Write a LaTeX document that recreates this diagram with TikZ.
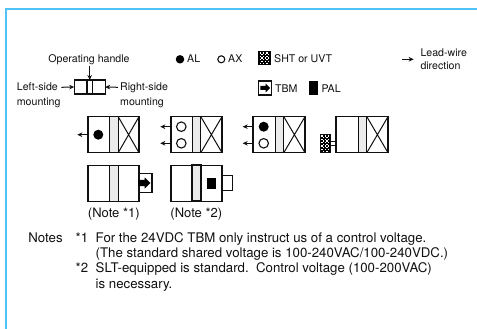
\documentclass[tikz,border=0pt]{standalone}
\usepackage{fontspec}
\setmainfont{TeX Gyre Heros}
\usetikzlibrary{arrows.meta}
\definecolor{rule}{HTML}{4FC3F7}
\definecolor{bandgray}{HTML}{EBEBEB}
\definecolor{ink}{HTML}{101010}
\tikzset{
  x=1pt,y=-1pt,
  txt/.style={anchor=base west,inner sep=0pt,font=\fontsize{10.6}{12}\selectfont,text=ink},
  big/.style={anchor=base west,inner sep=0pt,font=\fontsize{13.25}{15}\selectfont,text=ink},
  ctxt/.style={anchor=base,inner sep=0pt,font=\fontsize{10.6}{12}\selectfont,text=ink},
  cbig/.style={anchor=base,inner sep=0pt,font=\fontsize{13}{15}\selectfont,text=ink},
  shell/.style={draw=ink,line width=1.1pt,fill=white,inner sep=0pt,outer sep=0pt,minimum height=36pt},
  band/.style={draw=ink,line width=1pt,fill=bandgray,inner sep=0pt,outer sep=0pt,minimum height=36pt,minimum width=8.5pt},
  tab/.style={draw=ink,line width=1.1pt,fill=white,inner sep=0pt,outer sep=0pt},
  wire/.style={-{Stealth[length=5pt,width=4.6pt]},line width=1pt,draw=ink},
  bigdot/.style={circle,fill=black,inner sep=0pt,minimum size=10pt},
  ring/.style={circle,draw=ink,line width=1.1pt,fill=white,inner sep=0pt,minimum size=9.5pt},
}
\newcommand\relaybody[5]{%
  \node[shell,minimum width=\the\numexpr#3-#2\relax pt] (#1) at ({(#2+#3)/2},#5) {};
  \node[band] (#1b) at ({#4+4.25},#5) {};
}
\newcommand\relaycross[1]{%
  \coordinate (#1tl) at (#1b.north east); \coordinate (#1bl) at (#1b.south east);
  \draw[line width=1pt,draw=ink] (#1tl) -- (#1.south east) (#1bl) -- (#1.north east);
}
\newcommand\checker[4]{%
  \foreach \i in {0,...,#3}{\foreach \j in {0,...,#4}{%
    \pgfmathparse{int(mod(\i+\j,2))}%
    \ifnum\pgfmathresult=0 \fill[white] ({#1+\i*1.7},{#2+\j*1.7}) rectangle ++(1.3,1.3);\fi
  }}%
}
\begin{document}
\begin{tikzpicture}
\useasboundingbox (0,0) rectangle (477,329);
\fill[rule] (5,8) rectangle (477,10);
\fill[rule] (5,8) rectangle (7,329);

% key diagram
\node[ctxt] (oph) at (89,63) {Operating handle};
\node[draw=ink,line width=1.1pt,minimum width=31pt,minimum height=14pt,inner sep=0pt,outer sep=0pt] (key) at (89.7,87) {};
\draw[line width=1.1pt,draw=ink] (87,80) -- (87,94) (92.7,80) -- (92.7,94);
\draw[wire] (oph.south -| key.north) -- (key.north);
\node[txt] (ls1) at (16.7,91) {Left-side};
\node[txt] (ls2) at (16.7,105.5) {mounting};
\node[txt] (rs1) at (120,91) {Right-side};
\node[txt] (rs2) at (120,105.5) {mounting};
\coordinate (la) at (61.3,87.3); \coordinate (ra) at (118,87.3);
\draw[wire] (la) -- (key.west);
\draw[wire] (ra) -- (key.east);

% legend
\node[circle,fill=black,inner sep=0pt,minimum size=8.5pt] (kal) at (180,59.3) {};
\node[txt] (tal) at (187,63) {AL};
\node[circle,draw=ink,line width=1.1pt,inner sep=0pt,minimum size=7pt] (kax) at (221.3,59.3) {};
\node[txt] (tax) at (228,63) {AX};
\fill[black] (258.3,51) rectangle (270.7,65.3);
\checker{259.6}{52.4}{5}{6}
\node[txt] (tsht) at (274,63) {SHT or UVT};
\coordinate (ld1) at (402.3,59.3); \coordinate (ld2) at (413.7,59.3);
\draw[wire] (ld1) -- (ld2);
\node[txt] (lw1) at (420.3,57) {Lead-wire};
\node[txt] (lw2) at (420.3,70) {direction};
\node[draw=ink,line width=1.1pt,fill=white,minimum width=13pt,minimum height=14pt,inner sep=0pt] (ktbm) at (265,88) {};
\fill[black] (260.3,86) -- (265.5,86) -- (265.5,83.5) -- (270,88) -- (265.5,92.5) -- (265.5,90) -- (260.3,90) -- cycle;
\node[txt] (ttbm) at (275,92.5) {TBM};
\fill[black] (309.3,81) rectangle (317.7,95);
\node[txt] (tpal) at (321.3,92.5) {PAL};

% row 1
\relaybody{r1}{88}{139}{109.7}{134.7}\relaycross{r1}
\node[bigdot] (r1d) at (98.3,134.7) {};
\coordinate (r1e) at (77.3,134.7);
\draw[wire] (r1.west) -- (r1e);

\relaybody{r2}{171}{222}{192.3}{134.7}\relaycross{r2}
\node[ring] (r2a) at (181.3,126.7) {};
\node[ring] (r2c) at (181.3,143.3) {};
\coordinate (r2e1) at (160.3,126.7); \coordinate (r2e2) at (160.3,143.3);
\draw[wire] (r2.west |- r2a) -- (r2e1);
\draw[wire] (r2.west |- r2c) -- (r2e2);

\relaybody{r3}{253}{305}{275.3}{134.7}\relaycross{r3}
\node[bigdot] (r3a) at (263.7,126.7) {};
\node[ring] (r3c) at (263.7,143.3) {};
\coordinate (r3e1) at (242.7,126.7); \coordinate (r3e2) at (242.7,143.3);
\draw[wire] (r3.west |- r3a) -- (r3e1);
\draw[wire] (r3.west |- r3c) -- (r3e2);

\relaybody{r4}{336}{388}{358.3}{134.7}\relaycross{r4}
\node[draw=ink,line width=0.9pt,fill=black,minimum width=9.6pt,minimum height=18.4pt,inner sep=0pt,outer sep=0pt] (r4h) at (325.5,143.5) {};
\checker{321.3}{135.2}{4}{9}
\draw[line width=1pt,draw=ink] (r4h.east |- 0,141.3) -- (r4.west |- 0,141.3)
  (r4h.east |- 0,145.3) -- (r4.west |- 0,145.3);

% row 2
\node[tab,minimum width=13pt,minimum height=19.4pt] (r5t) at (145.5,183.2) {};
\relaybody{r5}{88}{139}{109.7}{183.2}
\fill[black] (138,179.8) -- (144.5,179.8) -- (144.5,177.3) -- (150.5,183) -- (144.5,188.7) -- (144.5,186.2) -- (138,186.2) -- cycle;
\node[cbig] (n1) at (113.8,217.3) {(Note *1)};

\node[tab,minimum width=10.5pt,minimum height=14.6pt] (r6t) at (227.2,183.2) {};
\relaybody{r6}{171}{222}{192.3}{183.2}
\draw[line width=1.7pt,draw=ink] (r6b.south west) rectangle (r6b.north east);
\node[fill=black,minimum width=8.7pt,minimum height=10.7pt,inner sep=0pt] (r6p) at (211.3,183.3) {};
\node[cbig] (n2) at (196.3,217.3) {(Note *2)};

% notes
\node[big] (no) at (28.2,242) {Notes};
\node[big] (s1) at (75.5,242) {*1};
\node[big] (l1) at (95.5,242) {For the 24VDC TBM only instruct us of a control voltage.};
\node[big] (l2) at (95.5,257) {(The standard shared voltage is 100-240VAC/100-240VDC.)};
\node[big] (s2) at (75.5,272) {*2};
\node[big] (l3) at (95.5,272) {SLT-equipped is standard.\ \ Control voltage (100-200VAC)};
\node[big] (l4) at (95.5,288) {is necessary.};
\end{tikzpicture}
\end{document}
